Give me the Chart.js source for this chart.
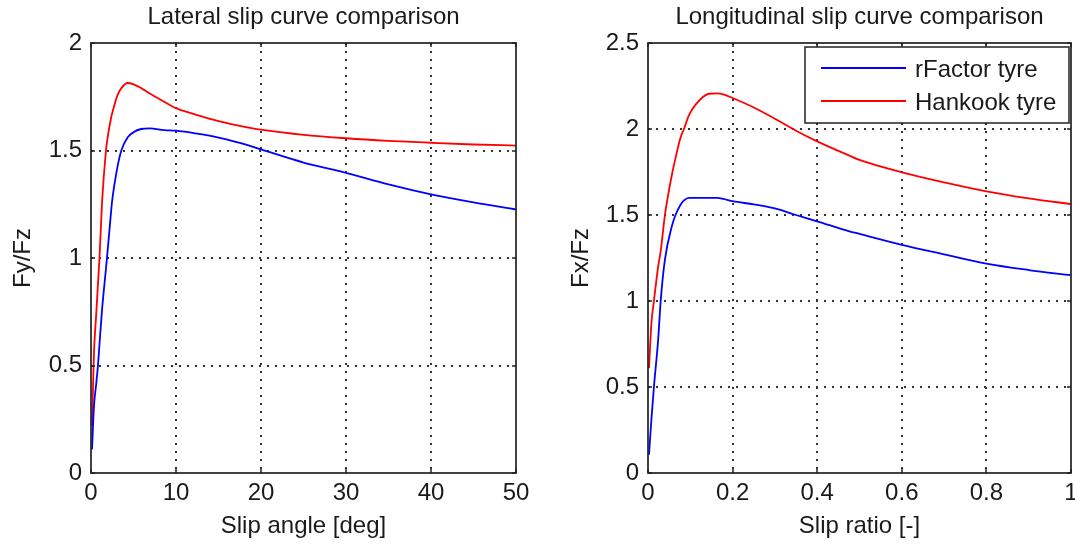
<!DOCTYPE html>
<html><head><meta charset="utf-8">
<script src="https://cdn.jsdelivr.net/npm/chart.js@4/dist/chart.umd.min.js"></script>
<style>
html,body{margin:0;padding:0;background:#fff;overflow:hidden;width:1075px;height:544px;}
#w1{position:absolute;left:0;top:0;width:540px;height:544px;}
#w2{position:absolute;left:540px;top:0;width:545px;height:544px;}
canvas{display:block}
</style></head><body>
<div id="w1"><canvas id="c1" width="540" height="544"></canvas></div>
<div id="w2"><canvas id="c2" width="545" height="544"></canvas></div>
<script>
// ---- Lateral (left) ----
const lateralSlipAngle = [0.12, 0.35, 0.6, 0.82, 1.0, 1.3, 1.76, 1.88, 2.35, 2.47, 3.1, 3.57, 4.3, 5.0, 5.9, 6.9, 8.6, 10, 12.5, 15, 17.5, 20, 25, 30, 35, 40, 45, 50];
const lateralRFactor  = [0.11, 0.31, 0.41, 0.5, 0.6, 0.76, 0.95, 1.0, 1.21, 1.26, 1.42, 1.5, 1.56, 1.585, 1.6, 1.603, 1.595, 1.592, 1.578, 1.56, 1.535, 1.505, 1.444, 1.396, 1.342, 1.296, 1.259, 1.226];
const lateralHankook  = [0.22, 0.56, 0.73, 0.88, 1.0, 1.26, 1.5, 1.54, 1.65, 1.67, 1.755, 1.79, 1.814, 1.808, 1.79, 1.765, 1.727, 1.697, 1.665, 1.637, 1.615, 1.597, 1.573, 1.557, 1.545, 1.536, 1.528, 1.523];
const lateralXTicks = [0, 10, 20, 30, 40, 50];
const lateralYTicks = [0, 0.5, 1, 1.5, 2];
// ---- Longitudinal (right) ----
const longSlipRatio = [0.0024, 0.008, 0.014, 0.024, 0.03, 0.04, 0.057, 0.065, 0.077, 0.085, 0.097, 0.112, 0.144, 0.163, 0.18, 0.2, 0.25, 0.3, 0.35, 0.4, 0.476, 0.5, 0.6, 0.7, 0.8, 0.9, 1.0];
const longRFactor  = [0.107, 0.31, 0.5, 0.775, 1.0, 1.24, 1.44, 1.5, 1.56, 1.585, 1.6, 1.6, 1.6, 1.6, 1.592, 1.58, 1.562, 1.538, 1.50, 1.463, 1.405, 1.39, 1.326, 1.271, 1.217, 1.18, 1.15];
const longHankook  = [0.61, 0.87, 1.0, 1.2, 1.29, 1.5, 1.74, 1.83, 1.95, 2.0, 2.08, 2.14, 2.205, 2.207, 2.2, 2.18, 2.125, 2.06, 1.99, 1.928, 1.845, 1.82, 1.748, 1.69, 1.638, 1.597, 1.563];
const longXTicks = [0, 0.2, 0.4, 0.6, 0.8, 1];
const longYTicks = [0, 0.5, 1, 1.5, 2, 2.5];

const seriesNames = ['rFactor tyre', 'Hankook tyre'];
const seriesColors = ['#0000ff', '#ff0000'];
const chartTitles = ['Lateral slip curve comparison', 'Longitudinal slip curve comparison'];
const xAxisLabels = ['Slip angle [deg]', 'Slip ratio [-]'];
const yAxisLabels = ['Fy/Fz', 'Fx/Fz'];

const FONT = "'Liberation Sans', Arial, sans-serif";
const FS = 24;
const TXT = '#1a1a1a';

function pts(xs, ys) { return xs.map((x, i) => ({x: x, y: ys[i]})); }

function framePlugin(titleText, withLegend) {
  return {
    id: 'frame',
    afterDatasetsDraw(chart) {
      const {ctx, chartArea: a, scales: {x, y}} = chart;
      ctx.save();
      const L = Math.round(a.left), R = Math.round(a.right);
      const T = Math.round(a.top), B = Math.round(a.bottom);
      ctx.strokeStyle = '#222';
      ctx.lineWidth = 1.5;
      ctx.beginPath();
      x.ticks.forEach(t => {
        const p = Math.round(x.getPixelForValue(t.value));
        ctx.moveTo(p, B); ctx.lineTo(p, B - 4);
        ctx.moveTo(p, T); ctx.lineTo(p, T + 4);
      });
      y.ticks.forEach(t => {
        const p = Math.round(y.getPixelForValue(t.value));
        ctx.moveTo(L, p); ctx.lineTo(L + 4, p);
        ctx.moveTo(R, p); ctx.lineTo(R - 4, p);
      });
      ctx.stroke();
      if (withLegend) {
        const bl = R - 266, br = R - 2;
        const bt = T + 4, bb = T + 80;
        ctx.fillStyle = '#fff';
        ctx.fillRect(bl, bt, br - bl, bb - bt);
        ctx.strokeStyle = '#222';
        ctx.lineWidth = 1.5;
        ctx.strokeRect(bl, bt, br - bl, bb - bt);
        const rows = [bt + 21, bt + 54];
        chart.data.datasets.forEach((ds, i) => {
          ctx.strokeStyle = ds.borderColor;
          ctx.lineWidth = 1.8;
          ctx.beginPath();
          ctx.moveTo(bl + 16, rows[i]); ctx.lineTo(bl + 101, rows[i]);
          ctx.stroke();
          ctx.fillStyle = TXT;
          ctx.font = FS + 'px ' + FONT;
          ctx.textBaseline = 'middle';
          ctx.textAlign = 'left';
          ctx.fillText(ds.label, bl + 110, rows[i] + 2);
        });
      }
      ctx.strokeStyle = '#222';
      ctx.lineWidth = 1.7;
      ctx.strokeRect(L, T, R - L, B - T);
      ctx.fillStyle = TXT;
      ctx.font = FS + 'px ' + FONT;
      ctx.textAlign = 'center';
      ctx.textBaseline = 'middle';
      ctx.fillText(titleText, (a.left + a.right) / 2, 17.5);
      ctx.restore();
    }
  };
}

function gridColor(ctx) {
  const n = ctx.scale.ticks.length;
  return (ctx.index === 0 || ctx.index === n - 1) ? 'rgba(0,0,0,0)' : '#333';
}

function makeChart(id, xs, s1, s2, xTicks, yTicks, xmax, ymax, idx, yW, rightPad, yTitlePad) {
  const ds = (i, ys) => ({label: seriesNames[i], data: pts(xs, ys), borderColor: seriesColors[i], borderWidth: 1.8, pointRadius: 0, cubicInterpolationMode: 'monotone', fill: false});
  return new Chart(document.getElementById(id), {
    type: 'line',
    data: {datasets: [ds(0, s1), ds(1, s2)]},
    options: {
      responsive: false,
      animation: false,
      devicePixelRatio: 1,
      layout: {padding: {top: 43, right: rightPad, bottom: 0, left: 0}},
      plugins: {legend: {display: false}, title: {display: false}, tooltip: {enabled: false}},
      scales: {
        x: {
          type: 'linear', min: 0, max: xmax,
          afterBuildTicks: s => { s.ticks = xTicks.map(v => ({value: v})); },
          afterFit: s => { s.height = 71; },
          ticks: {callback: v => String(v), color: TXT, font: {family: FONT, size: FS}, padding: 6, maxRotation: 0, autoSkip: false},
          grid: {color: gridColor, lineWidth: 2, drawTicks: false},
          border: {display: false, dash: [2, 6]},
          title: {display: true, text: xAxisLabels[idx], color: TXT, font: {family: FONT, size: FS}, padding: {top: 0, bottom: 3.5}}
        },
        y: {
          type: 'linear', min: 0, max: ymax,
          afterBuildTicks: s => { s.ticks = yTicks.map(v => ({value: v})); },
          afterFit: s => { s.width = yW; },
          ticks: {callback: v => String(v), color: TXT, font: {family: FONT, size: FS}, padding: 9, autoSkip: false},
          grid: {color: gridColor, lineWidth: 2, drawTicks: false},
          border: {display: false, dash: [2, 6]},
          title: {display: true, text: yAxisLabels[idx], color: TXT, font: {family: FONT, size: FS}, padding: {top: yTitlePad, bottom: 0}}
        }
      }
    },
    plugins: [framePlugin(chartTitles[idx], idx === 1)]
  });
}

makeChart('c1', lateralSlipAngle, lateralRFactor, lateralHankook, lateralXTicks, lateralYTicks, 50, 2, 0, 91, 24, 9);
makeChart('c2', longSlipRatio, longRFactor, longHankook, longXTicks, longYTicks, 1, 2.5, 1, 108, 14, 26.5);
</script>
</body></html>
